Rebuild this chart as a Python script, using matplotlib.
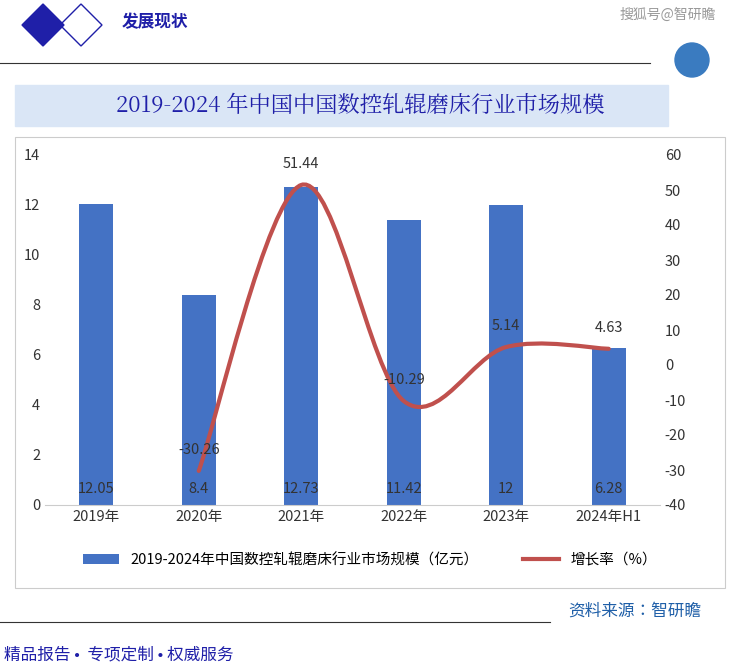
import matplotlib
matplotlib.use("Agg")
import matplotlib.pyplot as plt
from matplotlib import font_manager as fm
from matplotlib.path import Path
from matplotlib.patches import PathPatch, Rectangle, Polygon, Circle
import numpy as np

names = sorted({f.name for f in fm.fontManager.ttflist})
chosen = None
for n in ["Noto Sans CJK SC", "Noto Sans CJK JP", "Noto Sans CJK TC", "Noto Sans CJK KR"]:
    if n in names:
        chosen = n; break
serif = next((n for n in names if 'Serif CJK' in n), chosen)
plt.rcParams['font.family'] = [chosen or 'DejaVu Sans', 'DejaVu Sans']
plt.rcParams['axes.unicode_minus'] = False

categories = ["2019年", "2020年", "2021年", "2022年", "2023年", "2024年H1"]
market_size = [12.05, 8.4, 12.73, 11.42, 12, 6.28]
growth = [None, -30.26, 51.44, -10.29, 5.14, 4.63]
bar_labels = ["12.05", "8.4", "12.73", "11.42", "12", "6.28"]

W, H = 741, 668
fig = plt.figure(figsize=(W/100, H/100), dpi=100)

def fx(x): return x / W
def fy(y): return 1 - y / H

deco = fig.add_axes([0, 0, 1, 1])
deco.set_xlim(0, W); deco.set_ylim(H, 0); deco.axis('off')
deco.add_patch(Polygon([[22, 25], [43, 4], [64, 25], [43, 46]], closed=True, color='#1f1fa8'))
deco.add_patch(Polygon([[60, 25], [81, 4], [102, 25], [81, 46]], closed=True, fill=False, ec='#1f1fa8', lw=1))
deco.text(122, 22, "发展现状", color='#1f1fa8', fontsize=12, fontweight='bold', va='center')
deco.plot([0, 650], [63, 63], color='#333333', lw=0.8)
deco.text(668, 15, "搜狐号@智研瞻", color='#999999', fontsize=10, va='center', ha='center')
deco.add_patch(Circle((692, 60), 17, color='#3a7bc0'))
deco.add_patch(Rectangle((15, 85), 653, 41, color='#dae6f6'))
deco.text(360, 106, "2019-2024 年中国中国数控轧辊磨床行业市场规模", color='#1f1fa8', fontsize=16,
          ha='center', va='center', family=serif)
deco.add_patch(Rectangle((15, 137), 710, 451, fill=False, ec='#cccccc', lw=0.8))
deco.plot([0, 550], [622, 622], color='#333333', lw=0.8)
deco.text(568, 611, "资料来源：智研瞻", color='#1f5fa8', fontsize=12, va='center')
deco.text(4, 655, "精品报告 •  专项定制 • 权威服务", color='#1f1fa8', fontsize=12, va='center')

ax = fig.add_axes([fx(45), fy(505), fx(615), (505-155)/H])
x = np.arange(len(categories))
ax.bar(x, market_size, width=0.33, color='#4472c4', label="2019-2024年中国数控轧辊磨床行业市场规模（亿元）", zorder=2)
ax.set_ylim(0, 14)
ax.set_yticks(range(0, 15, 2))
ax.set_xlim(-0.5, len(categories) - 0.5)
ax.set_xticks(x)
ax.set_xticklabels(categories, fontsize=10.5)
for i, v in enumerate(bar_labels):
    ax.text(x[i], 0.65, v, ha='center', va='center', fontsize=10.5, color='#333333', zorder=5)
for s in ['top', 'left', 'right']:
    ax.spines[s].set_visible(False)
ax.spines['bottom'].set_color('#cccccc')
ax.tick_params(length=0, labelsize=10.5, colors='#333333')

ax2 = ax.twinx()
ax2.set_ylim(-40, 60)
ax2.set_yticks(range(-40, 61, 10))
ax2.tick_params(length=0, labelsize=10.5, colors='#333333')
for s in ax2.spines.values():
    s.set_visible(False)

px = x[1:].astype(float)
py = np.array(growth[1:], dtype=float)
verts = [(px[0], py[0])]
codes = [Path.MOVETO]
n = len(px)
for i in range(n - 1):
    p0 = (px[max(i-1, 0)], py[max(i-1, 0)])
    p1 = (px[i], py[i]); p2 = (px[i+1], py[i+1])
    p3 = (px[min(i+2, n-1)], py[min(i+2, n-1)])
    c1 = (p1[0] + (p2[0]-p0[0])/6, p1[1] + (p2[1]-p0[1])/6)
    c2 = (p2[0] - (p3[0]-p1[0])/6, p2[1] - (p3[1]-p1[1])/6)
    verts += [c1, c2, p2]; codes += [Path.CURVE4]*3
ax2.add_patch(PathPatch(Path(verts, codes), fill=False, ec='#c0504d', lw=3, zorder=3, capstyle='round'))
for xi, yi in zip(px, py):
    ax2.text(xi, yi + 4, f"{yi:g}", ha='center', va='bottom', fontsize=10.5, color='#333333')
ax2.plot([], [], color='#c0504d', lw=3, label="增长率（%）")

h1, l1 = ax.get_legend_handles_labels()
h2, l2 = ax2.get_legend_handles_labels()
fig.legend(h1 + h2, l1 + l2, loc='center', bbox_to_anchor=(fx(370), fy(560)), ncol=2,
           frameon=False, fontsize=10.5, columnspacing=3, handlelength=2.5)

fig.savefig("out.png", dpi=100)
